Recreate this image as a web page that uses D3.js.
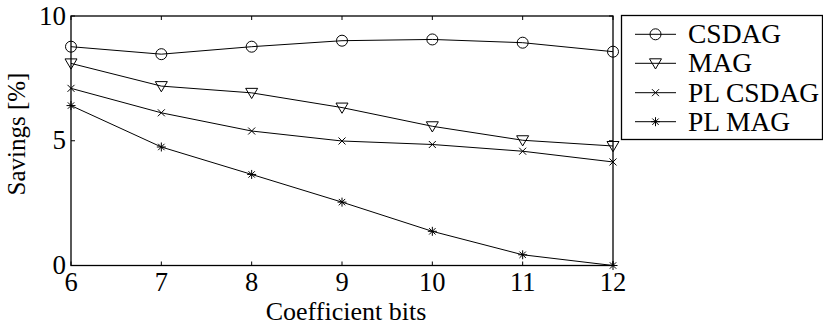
<!DOCTYPE html>
<html><head><meta charset="utf-8">
<script src="https://cdn.jsdelivr.net/npm/d3@7"></script>
<style>body{margin:0;background:#fff}svg{display:block}</style>
</head><body><svg id="c" width="823" height="326" font-family="'Liberation Serif', 'Times New Roman', Times, 'DejaVu Serif', serif"></svg>
<script>
const bits = [6, 7, 8, 9, 10, 11, 12];
const csdag   = [8.77, 8.47, 8.77, 9.01, 9.06, 8.93, 8.57];
const mag     = [8.10, 7.19, 6.92, 6.33, 5.58, 5.02, 4.79];
const plCsdag = [7.10, 6.12, 5.39, 4.99, 4.85, 4.58, 4.15];
const plMag   = [6.41, 4.75, 3.65, 2.54, 1.37, 0.43, 0.0];
const seriesNames = ["CSDAG", "MAG", "PL CSDAG", "PL MAG"];
const yTicks = [0, 5, 10];

const series = [
  {name: seriesNames[0], values: csdag, marker: "circle"},
  {name: seriesNames[1], values: mag, marker: "tri"},
  {name: seriesNames[2], values: plCsdag, marker: "x"},
  {name: seriesNames[3], values: plMag, marker: "star"}
];

const svg = d3.select("#c");
const L = 71, R = 613, T = 16, B = 265.5;
const x = d3.scaleLinear().domain([6, 12]).range([L, R]);
const y = d3.scaleLinear().domain([0, 10]).range([B, T]);

function drawMarker(g, type, cx, cy) {
  if (type === "circle") {
    g.append("circle").attr("cx", cx).attr("cy", cy).attr("r", 5.5)
      .attr("fill", "none").attr("stroke", "#000").attr("stroke-width", 1);
  } else if (type === "tri") {
    const s = 6;
    g.append("path").attr("d", `M${cx-s},${cy-s*0.75}L${cx+s},${cy-s*0.75}L${cx},${cy+s*0.95}Z`)
      .attr("fill", "none").attr("stroke", "#000").attr("stroke-width", 1);
  } else if (type === "x") {
    const s = 3.5;
    g.append("path").attr("d", `M${cx-s},${cy-s}L${cx+s},${cy+s}M${cx-s},${cy+s}L${cx+s},${cy-s}`)
      .attr("stroke", "#000").attr("stroke-width", 1);
  } else {
    const s = 4.5, d = 3.2;
    g.append("path").attr("d", `M${cx-s},${cy}L${cx+s},${cy}M${cx},${cy-s}L${cx},${cy+s}M${cx-d},${cy-d}L${cx+d},${cy+d}M${cx-d},${cy+d}L${cx+d},${cy-d}`)
      .attr("stroke", "#000").attr("stroke-width", 1);
  }
}

svg.append("rect").attr("x", L).attr("y", T).attr("width", R - L).attr("height", B - T)
  .attr("fill", "none").attr("stroke", "#000").attr("stroke-width", 1.3);

const tk = 4;
bits.forEach(b => {
  const px = x(b);
  svg.append("line").attr("x1", px).attr("x2", px).attr("y1", B).attr("y2", B - tk).attr("stroke", "#000");
  svg.append("line").attr("x1", px).attr("x2", px).attr("y1", T).attr("y2", T + tk).attr("stroke", "#000");
  svg.append("text").attr("x", px).attr("y", B + 25.5).attr("text-anchor", "middle")
    .attr("font-size", 26.5).text(b);
});
yTicks.forEach(v => {
  const py = y(v);
  svg.append("line").attr("x1", L).attr("x2", L + tk).attr("y1", py).attr("y2", py).attr("stroke", "#000");
  svg.append("line").attr("x1", R).attr("x2", R - tk).attr("y1", py).attr("y2", py).attr("stroke", "#000");
  svg.append("text").attr("x", L - 5).attr("y", py + 8.5).attr("text-anchor", "end")
    .attr("font-size", 27).text(v);
});

svg.append("text").attr("x", 346).attr("y", 320).attr("text-anchor", "middle")
  .attr("font-size", 26).text("Coefficient bits");
svg.append("text").attr("transform", "translate(25,134) rotate(-90)").attr("text-anchor", "middle")
  .attr("font-size", 25).text("Savings [%]");

const line = d3.line().x((d, i) => x(bits[i])).y(d => y(d));
series.forEach(s => {
  svg.append("path").attr("d", line(s.values)).attr("fill", "none")
    .attr("stroke", "#000").attr("stroke-width", 1);
  const g = svg.append("g");
  s.values.forEach((v, i) => drawMarker(g, s.marker, x(bits[i]), y(v)));
});

const lg = svg.append("g");
lg.append("rect").attr("x", 621.5).attr("y", 15.5).attr("width", 201).attr("height", 124)
  .attr("fill", "#fff").attr("stroke", "#000").attr("stroke-width", 1.3);
const rowY = [34.3, 63.3, 92.7, 121.7];
series.forEach((s, i) => {
  const cy = rowY[i];
  lg.append("line").attr("x1", 635).attr("x2", 676).attr("y1", cy).attr("y2", cy).attr("stroke", "#000");
  drawMarker(lg, s.marker, 655.5, cy);
  lg.append("text").attr("x", 688).attr("y", cy + 9).attr("font-size", 27.5).text(s.name);
});
</script></body></html>
